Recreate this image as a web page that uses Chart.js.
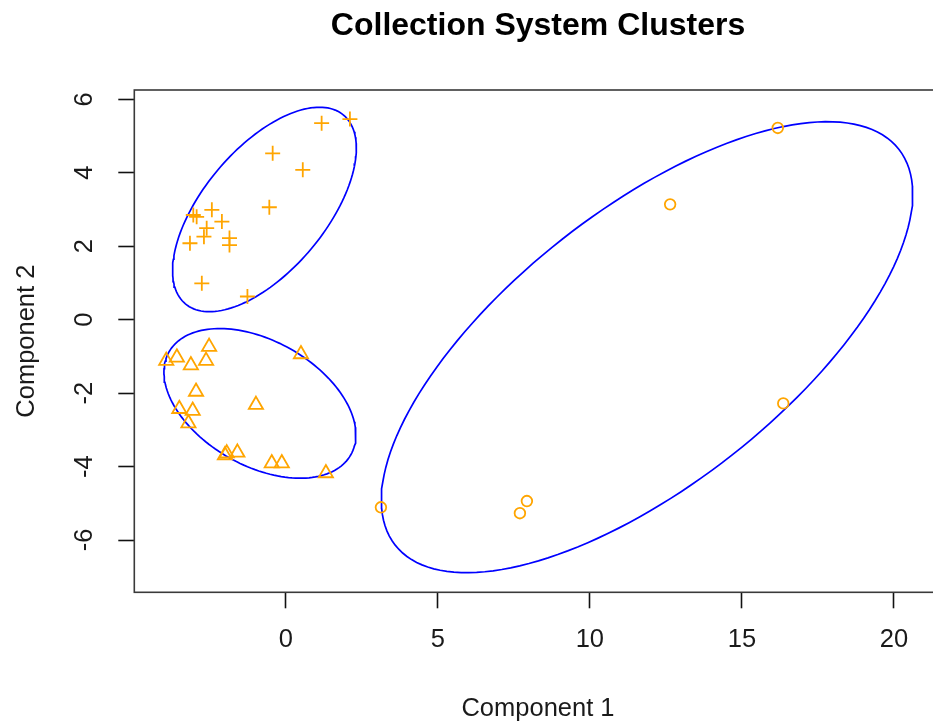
<!DOCTYPE html>
<html>
<head>
<meta charset="utf-8">
<title>Collection System Clusters</title>
<script src="https://cdn.jsdelivr.net/npm/chart.js@4.4.1/dist/chart.umd.min.js"></script>
<style>
  html, body { margin: 0; padding: 0; background: #fff; overflow: hidden; }
  #boite { position: relative; width: 960px; height: 723px; }
</style>
</head>
<body>
<div id="boite"><canvas id="graphique"></canvas></div>
<script>
// ============================================================================
// Données (Component 1, Component 2)
// ============================================================================
const TITRE = 'Collection System Clusters';
const TITRE_X = 'Component 1';
const TITRE_Y = 'Component 2';

// Cluster 1 : croix
const croixX = [1.18, 2.11, -0.43, 0.56, -0.54, -3.04, -2.93, -2.43, -2.10, -2.60, -2.69, -3.15, -1.85, -1.85, -2.76, -1.26];
const croixY = [5.35, 5.46, 4.53, 4.08, 3.06, 2.85, 2.80, 2.99, 2.67, 2.49, 2.26, 2.08, 2.22, 2.03, 0.99, 0.63];

// Cluster 2 : triangles
const triX = [-2.52, -3.58, -3.93, -3.12, -2.62, 0.50, -2.95, -3.50, -3.06, -3.20, -0.98, -1.94, -1.59, -2.00, -0.46, -0.13, 1.32];
const triY = [-0.74, -1.03, -1.12, -1.24, -1.12, -0.94, -1.96, -2.43, -2.48, -2.82, -2.32, -3.64, -3.62, -3.69, -3.91, -3.91, -4.18];

// Cluster 3 : cercles
const cercleX = [16.18, 12.64, 16.36, 3.13, 7.93, 7.70];
const cercleY = [5.22, 3.14, -2.28, -5.11, -4.94, -5.27];

// Ellipses des clusters : centre + deux demi-axes conjugués
const ellipseCentres = [[-0.70, 3.00], [-0.85, -2.28], [11.88, -0.75]];
const ellipseAxeA = [[2.60, 2.57], [2.99, -1.40], [8.28, 5.39]];
const ellipseAxeB = [[1.54, -1.07], [-1.01, -1.48], [2.79, -2.94]];

// Graduations
const ticksX = [0, 5, 10, 15, 20];
const ticksY = [-6, -4, -2, 0, 2, 4, 6];
const bornesX = [-4.98, 21.57];
const bornesY = [-7.424, 6.253];

const ORANGE = '#FFA500';
const BLEU = '#0000FF';
const POLICE = "'Liberation Sans', Arial, sans-serif";

function enPoints(xs, ys) {
    return xs.map((x, i) => ({ x: x, y: ys[i] }));
}

function pointsEllipse(i) {
    const [cx, cy] = ellipseCentres[i];
    const [ax, ay] = ellipseAxeA[i];
    const [bx, by] = ellipseAxeB[i];
    const pts = [];
    for (let k = 0; k <= 160; k++) {
        const t = 2 * Math.PI * k / 160;
        pts.push({ x: cx + ax * Math.cos(t) + bx * Math.sin(t), y: cy + ay * Math.cos(t) + by * Math.sin(t) });
    }
    return pts;
}

function jeuMarqueurs(data, style, rayon) {
    return {
        data: data,
        pointStyle: style,
        pointRadius: rayon,
        pointBorderColor: ORANGE,
        pointBackgroundColor: 'rgba(0,0,0,0)',
        pointBorderWidth: 1.8,
        showLine: false
    };
}

function jeuEllipse(i) {
    return {
        data: pointsEllipse(i),
        showLine: true,
        borderColor: BLEU,
        borderWidth: 1.7,
        pointRadius: 0,
        fill: false,
        tension: 0
    };
}

// ============================================================================
// Plugin : cadre, étiquettes Y tournées, titres (façon R)
// ============================================================================
const cadreR = {
    id: 'cadreR',
    afterDraw(chart) {
        const ctx = chart.ctx;
        const a = chart.chartArea;
        const echY = chart.scales.y;
        ctx.save();

        // Cadre du graphique
        ctx.strokeStyle = '#3a3a3a';
        ctx.lineWidth = 1.6;
        ctx.strokeRect(a.left, a.top, a.right - a.left, a.bottom - a.top);

        // Étiquettes de l'axe Y, tournées de 90°
        ctx.fillStyle = '#1a1a1a';
        ctx.font = '25.5px ' + POLICE;
        ctx.textAlign = 'center';
        ctx.textBaseline = 'alphabetic';
        ticksY.forEach(v => {
            ctx.save();
            ctx.translate(92, echY.getPixelForValue(v));
            ctx.rotate(-Math.PI / 2);
            ctx.fillText(String(v), 0, 0);
            ctx.restore();
        });

        // Titre de l'axe Y
        ctx.save();
        ctx.translate(34, (a.top + a.bottom) / 2);
        ctx.rotate(-Math.PI / 2);
        ctx.fillText(TITRE_Y, 0, 0);
        ctx.restore();

        // Titre de l'axe X
        ctx.fillText(TITRE_X, (a.left + a.right) / 2, 716);

        // Titre principal
        ctx.fillStyle = '#000';
        ctx.font = 'bold 32px ' + POLICE;
        ctx.fillText(TITRE, (a.left + a.right) / 2, 35);

        ctx.restore();
    }
};

function initialiserGraphique() {
    const ctx = document.getElementById('graphique');

    new Chart(ctx, {
        type: 'scatter',
        data: {
            datasets: [
                jeuMarqueurs(enPoints(croixX, croixY), 'cross', 7.5),
                jeuMarqueurs(enPoints(triX, triY), 'triangle', 8.2),
                jeuMarqueurs(enPoints(cercleX, cercleY), 'circle', 5.3),
                jeuEllipse(0),
                jeuEllipse(1),
                jeuEllipse(2)
            ]
        },
        options: {
            responsive: true,
            maintainAspectRatio: false,
            devicePixelRatio: 1,
            animation: false,
            events: [],
            layout: { padding: { left: 0, top: 90, right: 18.3, bottom: 0 } },
            plugins: {
                legend: { display: false },
                title: { display: false },
                tooltip: { enabled: false }
            },
            scales: {
                x: {
                    type: 'linear',
                    min: bornesX[0],
                    max: bornesX[1],
                    afterBuildTicks: (axe) => { axe.ticks = ticksX.map(v => ({ value: v })); },
                    afterFit: (axe) => { axe.height = 130.7; },
                    border: { display: false },
                    grid: {
                        drawOnChartArea: false,
                        drawTicks: true,
                        tickLength: 16,
                        tickColor: '#111',
                        tickWidth: 1.6
                    },
                    ticks: {
                        padding: 16,
                        color: '#1a1a1a',
                        font: { family: POLICE, size: 25.5 },
                        maxRotation: 0,
                        autoSkip: false
                    }
                },
                y: {
                    type: 'linear',
                    min: bornesY[0],
                    max: bornesY[1],
                    afterBuildTicks: (axe) => { axe.ticks = ticksY.map(v => ({ value: v })); },
                    afterFit: (axe) => { axe.width = 134.3; },
                    border: { display: false },
                    grid: {
                        drawOnChartArea: false,
                        drawTicks: true,
                        tickLength: 16,
                        tickColor: '#111',
                        tickWidth: 1.6
                    },
                    ticks: { display: false }
                }
            }
        },
        plugins: [cadreR]
    });
}

document.addEventListener('DOMContentLoaded', initialiserGraphique);
</script>
</body>
</html>
